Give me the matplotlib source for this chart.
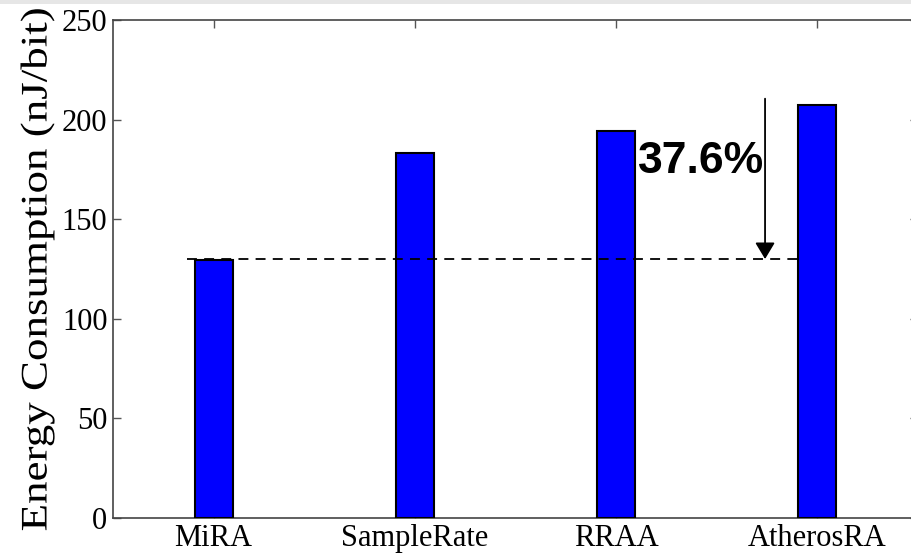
import matplotlib
matplotlib.use("Agg")
import matplotlib.pyplot as plt
from matplotlib.patches import Rectangle
from matplotlib.patheffects import AbstractPathEffect
from matplotlib.transforms import Affine2D

categories = ["MiRA", "SampleRate", "RRAA", "AtherosRA"]
energy = [129.5, 183.0, 194.5, 207.3]
yticks = [0, 50, 100, 150, 200, 250]
baseline = 130.0
annotation = "37.6%"


class StretchX(AbstractPathEffect):
    """Stretch a text's glyphs along its baseline, about the text centre."""
    def __init__(self, sx):
        super().__init__()
        self.sx = sx

    def draw_path(self, renderer, gc, tpath, affine, rgbFace=None):
        ext = tpath.get_extents()
        cx = 0.5 * (ext.x0 + ext.x1)
        a = Affine2D().translate(-cx, 0).scale(self.sx, 1).translate(cx, 0) + affine
        renderer.draw_path(gc, tpath, a, rgbFace)


W, H = 912, 560
fig = plt.figure(figsize=(W / 100, H / 100), dpi=100)
fig.patches.append(Rectangle((0, 1 - 4 / H), 1, 4 / H, transform=fig.transFigure,
                             facecolor="#e6e6e6", edgecolor="none", zorder=0))
ax = fig.add_axes([113 / W, 1 - 518 / H, (918 - 113) / W, (518 - 20) / H])

x = list(range(len(categories)))
ax.bar(x, energy, width=0.19, color="#0000ff", edgecolor="black", linewidth=1.5, zorder=3)
ax.set_xlim(-0.5, 3.5)
ax.set_ylim(0, 250)
ax.set_yticks(yticks)
ax.set_xticks(x)

serif = ["Liberation Serif", "DejaVu Serif"]
ax.set_xticklabels(categories, fontfamily=serif, fontsize=22)
ax.set_yticklabels([str(t) for t in yticks], fontfamily=serif, fontsize=22)

lab = ax.set_ylabel("Energy Consumption (nJ/bit)", fontfamily=serif, fontsize=27)
lab.set_va("baseline")
lab.set_path_effects([StretchX(1.2)])
ax.yaxis.set_label_coords(46.5 / W, 1 - 269.5 / H, transform=fig.transFigure)

ax.tick_params(direction="in", top=True, right=True, length=6, width=1, color="#555555",
               pad=4)
for s in ax.spines.values():
    s.set_color("#444444")
    s.set_linewidth(1.2)

ax.plot([-0.13, 2.9], [baseline, baseline], linestyle=(0, (5.5, 4)), color="black",
        linewidth=1.3, zorder=4)
ax.annotate("", xy=(2.74, baseline), xytext=(2.74, 210.5),
            arrowprops=dict(arrowstyle="-|>,head_length=1.0,head_width=0.6",
                            color="black", lw=1.3, shrinkA=0, shrinkB=0), zorder=5)
ax.text(2.42, 179, annotation, fontfamily=["Liberation Sans", "DejaVu Sans"],
        fontweight="bold", fontsize=32, ha="center", va="center", zorder=5)

fig.savefig("out.png", dpi=100)
